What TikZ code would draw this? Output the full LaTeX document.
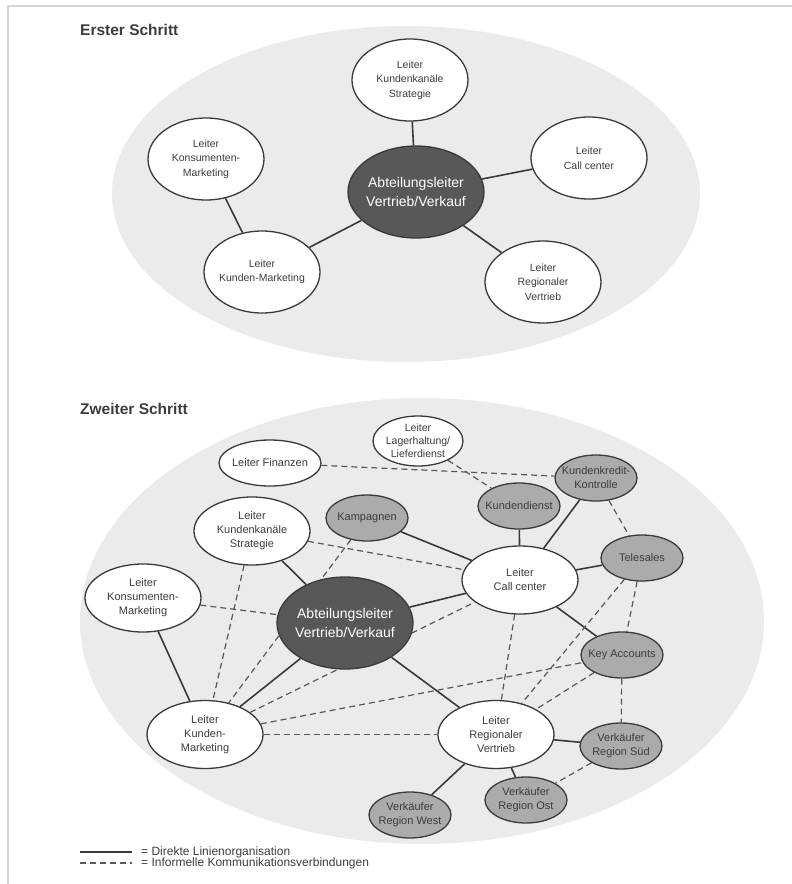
\documentclass[tikz,border=0pt]{standalone}
\usepackage{fontspec}
\setmainfont{Liberation Sans}
\usetikzlibrary{shapes.geometric}
\definecolor{feld}{HTML}{EBEBEB}
\definecolor{rand}{HTML}{3A3A3A}
\definecolor{mittel}{HTML}{ABABAB}
\definecolor{dunkel}{HTML}{585858}
\definecolor{schrift}{HTML}{3C3C3C}
\pgfdeclarelayer{back}
\pgfdeclarelayer{links}
\pgfsetlayers{back,links,main}

\begin{document}
\begin{tikzpicture}[x=1pt,y=-1pt,
    leiter/.style={ellipse,draw=rand,line width=1.3pt,fill=white,text=schrift,align=center,
      inner xsep=-6pt,inner ysep=-3pt,font=\fontsize{11}{14}\selectfont,
      minimum width=116pt,minimum height=68pt},
    leiterA/.style={leiter,font=\fontsize{10.5}{14.5}\selectfont,minimum width=116pt,minimum height=82pt},
    team/.style={leiter,fill=mittel,minimum width=82pt,minimum height=46pt},
    chef/.style={leiter,fill=dunkel,text=white,font=\fontsize{14}{19}\selectfont,
      minimum width=136pt,minimum height=92pt},
    linie/.style={draw=rand,line width=1.6pt},
    info/.style={draw=rand!85,line width=1.2pt,dash pattern=on 6pt off 4pt},
    titel/.style={anchor=west,inner sep=0pt,text=schrift,font=\fontsize{15.5}{18}\selectfont\bfseries},
    legende/.style={anchor=west,inner sep=0pt,text=schrift,font=\fontsize{12}{14}\selectfont}]

\useasboundingbox (0,0) rectangle (792,884);
\draw[black!16,line width=2pt] (792,6) -- (8,6) -- (8,884);

% Erster Schritt
\node[titel] (t1) at (80,30) {Erster Schritt};
\begin{pgfonlayer}{back}
  \fill[feld] (406,194) ellipse [x radius=294pt,y radius=168pt];
\end{pgfonlayer}
\node[chef] (chef1) at (416,192) {Abteilungsleiter\\Vertrieb/Verkauf};
\node[leiterA] (kks1) at (410,80) {Leiter\\Kundenkanäle\\Strategie};
\node[leiterA] (cc1) at (589,158) {Leiter\\Call center};
\node[leiterA] (kom1) at (206,159) {Leiter\\Konsumenten-\\Marketing};
\node[leiterA] (km1) at (262,272) {Leiter\\Kunden-Marketing};
\node[leiterA] (rv1) at (543,282) {Leiter\\Regionaler\\Vertrieb};
\begin{pgfonlayer}{links}
  \draw[linie] (chef1) -- (kks1);
  \draw[linie] (chef1) -- (cc1);
  \draw[linie] (chef1) -- (km1);
  \draw[linie] (chef1) -- (rv1);
  \draw[linie] (kom1) -- (km1);
\end{pgfonlayer}

% Zweiter Schritt
\node[titel] (t2) at (80,409) {Zweiter Schritt};
\begin{pgfonlayer}{back}
  \fill[feld] (422,621) ellipse [x radius=342pt,y radius=223pt];
\end{pgfonlayer}
\node[chef] (chef2) at (345,623) {Abteilungsleiter\\Vertrieb/Verkauf};
\node[leiter,minimum width=102pt,minimum height=46pt] (fin) at (270,463) {Leiter Finanzen};
\node[leiter,font=\fontsize{10.5}{13}\selectfont,minimum width=90pt,minimum height=50pt] (lag) at (418,441) {Leiter\\Lagerhaltung/\\Lieferdienst};
\node[leiter] (kks2) at (252,531) {Leiter\\Kundenkanäle\\Strategie};
\node[leiter] (kom2) at (143,598) {Leiter\\Konsumenten-\\Marketing};
\node[leiter] (km2) at (205,734.5) {Leiter\\Kunden-\\Marketing};
\node[leiter] (cc2) at (520,580) {Leiter\\Call center};
\node[leiter] (rv2) at (496,734.5) {Leiter\\Regionaler\\Vertrieb};
\node[team] (kamp) at (367,518) {Kampagnen};
\node[team] (kd) at (519,506) {Kundendienst};
\node[team] (kkk) at (596,478) {Kundenkredit-\\Kontrolle};
\node[team] (tel) at (642,558) {Telesales};
\node[team] (ka) at (622,655) {Key Accounts};
\node[team] (sued) at (621,746) {Verkäufer\\Region Süd};
\node[team] (ost) at (526,800) {Verkäufer\\Region Ost};
\node[team] (west) at (410,815) {Verkäufer\\Region West};
\begin{pgfonlayer}{links}
  \draw[linie] (chef2) -- (kks2);
  \draw[linie] (chef2) -- (cc2);
  \draw[linie] (chef2) -- (km2);
  \draw[linie] (chef2) -- (rv2);
  \draw[linie] (kom2) -- (km2);
  \draw[linie] (kamp) -- (cc2);
  \draw[linie] (kd) -- (cc2);
  \draw[linie] (kkk) -- (cc2);
  \draw[linie] (tel) -- (cc2);
  \draw[linie] (cc2) -- (ka);
  \draw[linie] (rv2) -- (west);
  \draw[linie] (rv2) -- (ost);
  \draw[linie] (rv2) -- (sued);
  \draw[info] (fin) -- (kkk);
  \draw[info] (lag) -- (kd);
  \draw[info] (kkk) -- (tel);
  \draw[info] (kks2) -- (cc2);
  \draw[info] (kks2) -- (km2);
  \draw[info] (kamp) -- (km2);
  \draw[info] (kom2) -- (chef2);
  \draw[info] (km2) -- (cc2);
  \draw[info] (km2) -- (ka);
  \draw[info] (km2) -- (rv2);
  \draw[info] (cc2) -- (rv2);
  \draw[info] (tel) -- (rv2);
  \draw[info] (tel) -- (ka);
  \draw[info] (ka) -- (rv2);
  \draw[info] (ka) -- (sued);
  \draw[info] (sued) -- (ost);
\end{pgfonlayer}

% Legende
\coordinate (s1) at (80,852);
\coordinate (s2) at (132,852);
\coordinate (d1) at (80,863);
\coordinate (d2) at (132,863);
\draw[linie,line width=1.2pt] (s1) -- (s2);
\draw[info] (d1) -- (d2);
\node[legende] (l1) at (141,852) {= Direkte Linienorganisation};
\node[legende] (l2) at (141,863) {= Informelle Kommunikationsverbindungen};
\end{tikzpicture}
\end{document}
